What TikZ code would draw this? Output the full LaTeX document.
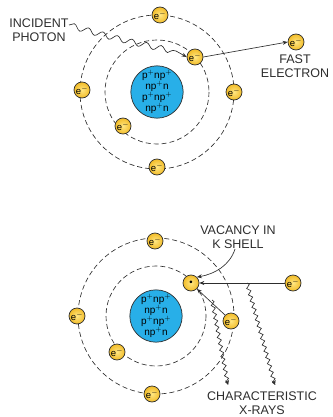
\documentclass[tikz,border=0pt]{standalone}
\usepackage{fontspec}
\setmainfont{Liberation Sans}
\usetikzlibrary{arrows.meta,decorations.pathmorphing}
\definecolor{shellgold}{RGB}{242,188,40}
\definecolor{goldlight}{RGB}{255,230,130}
\definecolor{nucblue}{RGB}{40,175,232}
\definecolor{inkline}{RGB}{45,45,45}
\tikzset{
  electron/.style={circle,draw=inkline,line width=0.7pt,
    inner color=goldlight,outer color=shellgold,
    minimum size=16pt,inner sep=0pt,font=\fontsize{9.5}{9.5}\selectfont},
  nucleus/.style={circle,draw=inkline,line width=0.7pt,fill=nucblue,
    minimum size=45pt,inner sep=0pt,align=center,
    font=\fontsize{10}{9}\selectfont},
  orbit/.style={draw=inkline,line width=0.65pt,dash pattern=on 5pt off 3pt},
  lbl/.style={align=center,font=\fontsize{12.5}{13.5}\selectfont,inner sep=0pt,text=inkline},
  ray/.style={draw=inkline,line width=0.65pt},
  tip/.style={-{Stealth[length=5pt,width=4pt]}},
  wave/.style={ray,decorate,decoration={snake,segment length=6.5pt,amplitude=1.8pt}}
}
\newcommand{\elec}{e$^{-}$}
\newcommand{\nuctext}{p$^{+}$np$^{+}$\\np$^{+}$n\\p$^{+}$np$^{+}$\\np$^{+}$n}
\begin{document}
\begin{tikzpicture}[x=1pt,y=-1pt]
\useasboundingbox (0,0) rectangle (332,417);

% ---- upper atom: photoelectric ejection ----
\coordinate (Ac) at (157,92);
\draw[orbit] (Ac) circle[radius=77];
\draw[orbit] (Ac) circle[radius=52];
\node[nucleus] (nucA) at (Ac) {\nuctext};
\node[electron] (a1) at (160,15) {\elec};
\node[electron] (a2) at (82,90) {\elec};
\node[electron] (a3) at (234,92) {\elec};
\node[electron] (a4) at (157,167) {\elec};
\node[electron] (a5) at (195,57) {\elec};
\node[electron] (a6) at (123,126) {\elec};
\node[electron] (fast) at (296,42) {\elec};

\node[lbl] (photon) at (39,30) {INCIDENT\\PHOTON};
\node[lbl] (fastlbl) at (295,66) {FAST\\ELECTRON};

\coordinate (ph0) at (69,25);
\coordinate (ph1) at (105,36);
\coordinate (ph2) at (140,44);
\draw[ray,decorate,decoration={snake,segment length=15pt,amplitude=2.8pt}]
  (ph0) .. controls (ph1) and (ph2) .. (176,51);
\draw[ray,tip] (176,51) -- (a5.west);
\draw[ray,tip] (a5.east) -- (fast.west);

% ---- lower atom: vacancy filled, characteristic x-rays ----
\coordinate (Bc) at (156,316);
\draw[orbit] (Bc) circle[radius=78];
\draw[orbit] (Bc) circle[radius=50];
\node[nucleus] (nucB) at (Bc) {\nuctext};
\node[electron] (b1) at (155,241) {\elec};
\node[electron] (b2) at (77,316) {\elec};
\node[electron] (b3) at (231,321) {\elec};
\node[electron] (b4) at (152,394) {\elec};
\node[electron] (b5) at (117,352) {\elec};
\node[electron] (vac) at (191,283) {\textbullet};
\node[electron] (inc) at (293,283) {\elec};

\node[lbl] (vaclbl) at (238,237) {VACANCY IN\\K SHELL};
\node[lbl] (xlbl) at (262,403) {CHARACTERISTIC\\X-RAYS};

\coordinate (vtail) at (235,249);
\draw[ray,tip] (vtail) .. controls (230,265) and (215,274) .. (vac.north east);
\draw[ray,tip] (inc.west) -- (vac.east);
\draw[ray,tip] (b3.north west) -- (vac.south east);

\coordinate (xr1) at (247,283);
\coordinate (xr2) at (212,300);
\draw[wave,tip] (xr1) -- (275,385);
\draw[wave,tip] (xr2) -- (228,385);
\end{tikzpicture}
\end{document}
